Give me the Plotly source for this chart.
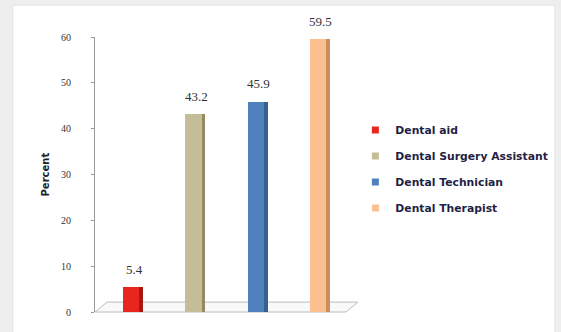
import plotly.graph_objects as go

categories = ["Dental aid", "Dental Surgery Assistant", "Dental Technician", "Dental Therapist"]
values = [5.4, 43.2, 45.9, 59.5]
value_labels = ["5.4", "43.2", "45.9", "59.5"]
front_colors = ["#E8261E", "#C4BD97", "#4F81BD", "#FAC090"]
side_colors = ["#A8170F", "#948A5E", "#35608F", "#C98E5C"]
y_ticks = [0, 10, 20, 30, 40, 50, 60]

SERIF = "Liberation Serif, DejaVu Serif, Times New Roman, serif"
SANS = "DejaVu Sans, Verdana, sans-serif"

x_pos = list(range(len(categories)))

fig = go.Figure()

# front faces
for i, cat in enumerate(categories):
    fig.add_trace(go.Bar(
        x=[x_pos[i]], y=[values[i]], width=0.26, offset=-0.16,
        marker=dict(color=front_colors[i], line=dict(width=0)),
        showlegend=False, hoverinfo="skip", name=cat))
# side faces (3D look)
for i, cat in enumerate(categories):
    fig.add_trace(go.Bar(
        x=[x_pos[i]], y=[values[i]], width=0.06, offset=0.10,
        marker=dict(color=side_colors[i], line=dict(width=0)),
        showlegend=False, hoverinfo="skip"))

# legend entries (small squares)
for i, cat in enumerate(categories):
    fig.add_trace(go.Scatter(
        x=[None], y=[None], mode="markers", name="<b>" + cat + "</b>",
        marker=dict(symbol="square", size=7, color=front_colors[i]),
        legendgroup=cat, showlegend=True))

# value labels
for i, v in enumerate(values):
    fig.add_annotation(x=x_pos[i], y=v, text=value_labels[i], showarrow=False,
                       yshift=18, xshift=1,
                       font=dict(family=SERIF, size=13, color="#333333"))

# y-axis title
fig.add_annotation(xref="paper", yref="paper", x=-0.215, y=0.5, text="<b>Percent</b>",
                   textangle=-90, showarrow=False,
                   font=dict(family=SANS, size=10, color="#222222"))

# white panel
fig.add_shape(type="rect", xref="paper", yref="paper", x0=-0.312, x1=1.749, y0=-0.08, y1=1.116,
              fillcolor="white", line=dict(color="#e2e2e2", width=1), layer="below")
# floor
fig.add_shape(type="path", xref="paper", yref="paper",
              path="M 0 0 L 0.046 0.036 L 1.0 0.036 L 0.954 0 Z",
              fillcolor="#f9f9f9", line=dict(color="#bdbdbd", width=1), layer="below")

fig.update_layout(
    width=561, height=332,
    margin=dict(l=95, r=203, t=37, b=20, autoexpand=False),
    paper_bgcolor="#eeeeee", plot_bgcolor="rgba(0,0,0,0)",
    barmode="overlay", bargap=0,
    xaxis=dict(range=[-0.61, 3.61], showticklabels=False, showgrid=False, zeroline=False,
               showline=False, ticks=""),
    yaxis=dict(range=[0, 60], tickvals=y_ticks, showgrid=False, zeroline=False,
               showline=True, linecolor="#9a9a9a", linewidth=1,
               ticks="outside", ticklen=3, tickcolor="#9a9a9a",
               ticklabelstandoff=18,
               tickprefix="<b>", ticksuffix="</b>",
               tickfont=dict(family=SERIF, size=10, color="#333333")),
    legend=dict(x=0.99, y=0.52, xanchor="left", yanchor="middle",
                bgcolor="rgba(0,0,0,0)", tracegroupgap=7,
                font=dict(family=SANS, size=10.8, color="#1f1f45"),
                itemwidth=30),
    showlegend=True,
)

fig.write_html("out.html")
